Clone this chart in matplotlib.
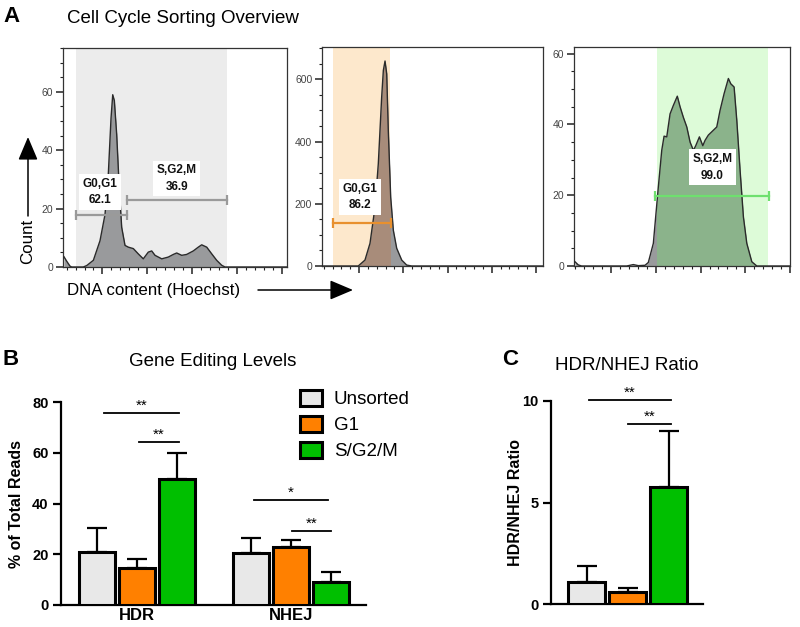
import matplotlib
matplotlib.use('Agg')
import matplotlib.pyplot as plt
import numpy as np
from matplotlib.patches import Patch
from matplotlib.ticker import MultipleLocator, FixedLocator

plt.rcParams['font.family'] = ['Liberation Sans', 'DejaVu Sans']

# ---------------- data: panel A histograms ----------------
h1_x = [-2.9, 0.1, 3.8, 5.7, 18.7, 22.5, 29.9, 37.3, 42.9, 46.6, 49.6, 51.5, 53.3, 55.9,
        58.8, 61.5, 65.2, 68.9, 74.5, 80.0, 85.6, 91.2, 95.0, 98.7, 106.2, 113.5, 119.1,
        122.9, 128.5, 134.0, 141.4, 147.0, 150.8, 156.4, 162.0, 167.5, 173.1, 176.8, 246]
h1_y = [3.5, 2.0, 0.3, 0.0, 0.0, 0.5, 2.3, 9.0, 18.0, 32.0, 51.0, 59.0, 57.0, 45.5,
        27.0, 13.6, 7.4, 6.8, 6.3, 4.5, 2.8, 5.1, 5.5, 4.0, 2.8, 3.4, 4.3,
        4.8, 4.0, 4.3, 5.5, 6.8, 7.6, 6.8, 4.5, 2.3, 0.6, 0.0, 0.0]

h2_x = [-2, 39.0, 46.6, 52.3, 58.0, 61.7, 65.5, 67.4, 69.3, 71.2, 73.0, 75.7, 78.7,
        82.5, 88.2, 93.8, 99.5, 248]
h2_y = [0, 0, 19, 73, 190, 329, 543, 629, 659, 618, 436, 222, 115,
        57, 19, 3, 0, 0]

h3_x = [-0.4, 3.3, 7.0, 57.4, 64.8, 70.4, 77.9, 81.6, 87.2, 92.8, 96.6, 99.2, 102.2,
        105.9, 109.6, 114.0, 117.1, 120.8, 124.6, 128.3, 132.0, 134.6, 138.7, 142.5,
        145.0, 148.7, 158.1, 161.8, 166.3, 171.1, 173.8, 177.5, 180.5, 184.2, 187.9,
        191.7, 197.3, 202.9, 240]
h3_y = [1.2, 0.3, 0.0, 0.0, 0.4, 0.1, 0.2, 1.0, 6.4, 22.4, 32.7, 36.7, 36.5,
        43.0, 45.4, 48.0, 45.0, 42.0, 39.3, 35.0, 32.7, 34.0, 36.5, 34.0,
        35.5, 37.0, 39.3, 44.0, 48.7, 53.0, 51.5, 50.6, 41.2, 27.0, 13.9,
        6.4, 1.2, 0.0, 0.0]

# gates: (start, end, level)
g1_gates = [(10.5, 67.4, 17.7), (67.4, 179.0, 22.8)]
g1_labels = [('G0,G1\n62.1', 37.3, 25.7), ('S,G2,M\n36.9', 123.0, 30.3)]
g2_gates = [(10.4, 76.0, 138.0)]
g2_labels = [('G0,G1\n86.2', 41.0, 222.0)]
g3_gates = [(89.1, 216.6, 19.7)]
g3_labels = [('S,G2,M\n99.0', 153.2, 27.9)]
g1_shade = (10.5, 179.0)
g2_shade = (10.4, 74.9)
g3_shade = (91.3, 215.5)

# ---------------- data: panels B and C ----------------
groups = ['HDR', 'NHEJ']
series = ['Unsorted', 'G1', 'S/G2/M']
colors = ['#e8e8e8', '#ff8000', '#00bf00']
b_means = {'Unsorted': [21.0, 20.5], 'G1': [14.6, 22.9], 'S/G2/M': [49.7, 9.1]}
b_err = {'Unsorted': [9.4, 5.9], 'G1': [3.5, 2.7], 'S/G2/M': [10.2, 3.8]}
c_means = [1.08, 0.59, 5.76]
c_err = [0.79, 0.20, 2.76]

fig = plt.figure(figsize=(8, 6.27), dpi=100)
W, H = 800.0, 627.0


def rect(x0, y0, x1, y1):
    return [x0 / W, 1 - y1 / H, (x1 - x0) / W, (y1 - y0) / H]


def hist_panel(r, x, y, xlim, ylim, ymaj, ymin, shade, shade_col, fill_col,
               gates, gate_col, labels):
    ax = fig.add_axes(r)
    sp = ax.axvspan(shade[0], shade[1], color=shade_col, zorder=0, lw=0)
    ax.fill_between(x, y, color='#999a9c', zorder=1, lw=0)
    f2 = ax.fill_between(x, y, color=fill_col, zorder=2, lw=0)
    f2.set_clip_path(sp)
    ax.plot(x, y, color='#2a2a2a', lw=1.0, zorder=3)
    for (a, b, lev) in gates:
        ax.plot([a, b], [lev, lev], color=gate_col, lw=1.6, marker='|',
                markersize=7, markeredgewidth=1.6, zorder=4)
    for (t, lx, ly) in labels:
        ax.text(lx, ly, t, ha='center', va='center', fontsize=8.5, fontweight='bold',
                color='#111', linespacing=1.5, zorder=5,
                bbox=dict(boxstyle='square,pad=0.3', fc='white', ec='none'))
    ax.set_xlim(*xlim)
    ax.set_ylim(*ylim)
    ax.xaxis.set_major_locator(FixedLocator([40, 90, 140, 190, 240]))
    ax.xaxis.set_minor_locator(MultipleLocator(10))
    ax.yaxis.set_major_locator(MultipleLocator(ymaj))
    ax.yaxis.set_minor_locator(MultipleLocator(ymin))
    ax.tick_params(axis='x', which='both', labelbottom=False, direction='out')
    ax.tick_params(which='major', length=5, width=1.1, color='#222')
    ax.tick_params(which='minor', length=2.5, width=0.8, color='#222')
    ax.tick_params(axis='y', labelsize=7.5, labelcolor='#444', pad=2)
    for s in ax.spines.values():
        s.set_color('#333')
        s.set_linewidth(0.9)
    return ax


hist_panel(rect(63, 48, 287, 267), h1_x, h1_y, (-4, 246), (0, 75), 20, 5,
           g1_shade, '#ececec', '#999a9c', g1_gates, '#9a9a9a', g1_labels)
hist_panel(rect(322, 47, 543, 266), h2_x, h2_y, (-2, 248), (0, 704), 200, 50,
           g2_shade, '#fde8cc', '#a88c7a', g2_gates, '#e8902e', g2_labels)
hist_panel(rect(574, 47, 790, 266), h3_x, h3_y, (-1.5, 240), (0, 61.9), 20, 5,
           g3_shade, '#ddfbd8', '#8bb38b', g3_gates, '#6ee06e', g3_labels)

# panel A texts
fig.text(3 / W, 1 - 21.5 / H, 'A', fontsize=16, fontweight='bold', va='baseline')
fig.text(67 / W, 1 - 23 / H, 'Cell Cycle Sorting Overview', fontsize=13.5, va='baseline')
fig.text(67 / W, 1 - 295 / H, 'DNA content (Hoechst)', fontsize=12.2, va='baseline')
fig.text(28 / W, 1 - 241 / H, 'Count', fontsize=12.2, rotation=90, ha='center', va='center')
fig.add_artist(plt.Annotation('', xy=(353, H - 290), xytext=(258, H - 290),
                              xycoords='figure pixels', textcoords='figure pixels',
                              arrowprops=dict(arrowstyle='-|>,head_length=1.3,head_width=0.55',
                                              color='black', lw=1.1, mutation_scale=11,
                                              shrinkA=0, shrinkB=0)))
fig.add_artist(plt.Annotation('', xy=(28, H - 137), xytext=(28, H - 216),
                              xycoords='figure pixels', textcoords='figure pixels',
                              arrowprops=dict(arrowstyle='-|>,head_length=1.3,head_width=0.55',
                                              color='black', lw=1.1, mutation_scale=11,
                                              shrinkA=0, shrinkB=0)))


def style_bar_axes(ax):
    for s in ['top', 'right']:
        ax.spines[s].set_visible(False)
    for s in ['left', 'bottom']:
        ax.spines[s].set_linewidth(1.6)
    ax.tick_params(axis='y', length=6, width=1.6, labelsize=10.5, pad=3)
    for lab in ax.get_yticklabels():
        lab.set_fontweight('bold')


def sig(ax, x0, x1, y, txt):
    ax.plot([x0, x1], [y, y], color='black', lw=1.3, clip_on=False)
    ax.annotate(txt, xy=((x0 + x1) / 2, y), xytext=(0, 0), textcoords='offset points',
                ha='center', va='bottom', fontsize=11, annotation_clip=False)


# ---------------- panel B ----------------
axB = fig.add_axes(rect(61, 402, 366, 605))
gc = np.array([0.0, 3.86])
for i, s in enumerate(series):
    xs = gc + (i - 1) * 1.0
    axB.bar(xs, b_means[s], width=0.9, color=colors[i], edgecolor='black', lw=2.2,
            zorder=3, label=s)
    axB.errorbar(xs, b_means[s], yerr=[np.zeros(2), b_err[s]], fmt='none', ecolor='black',
                 elinewidth=1.6, capsize=7.5, capthick=1.6, zorder=2)
axB.set_xlim(-1.89, 5.735)
axB.set_ylim(0, 80)
axB.set_yticks([0, 20, 40, 60, 80])
axB.set_xticks(gc)
axB.set_xticklabels(groups, fontsize=12, fontweight='bold')
axB.tick_params(axis='x', length=0, pad=2)
style_bar_axes(axB)
sig(axB, gc[0] - 0.82, gc[0] + 1.05, 75.7, '**')
sig(axB, gc[0] + 0.06, gc[0] + 1.05, 64.2, '**')
sig(axB, gc[1] - 0.93, gc[1] + 0.92, 41.4, '*')
sig(axB, gc[1] + 0.02, gc[1] + 1.0, 29.1, '**')
fig.text(3 / W, 1 - 365 / H, 'B', fontsize=16, fontweight='bold', va='baseline')
fig.text(213 / W, 1 - 366 / H, 'Gene Editing Levels', fontsize=13.5, ha='center', va='baseline')
fig.text(17 / W, 1 - 504 / H, '% of Total Reads', fontsize=11.5, fontweight='bold',
         rotation=90, ha='center', va='center')

handles = [Patch(facecolor=colors[i], edgecolor='black', lw=2.2, label=s)
           for i, s in enumerate(series)]
fig.legend(handles=handles, loc='upper left', bbox_to_anchor=(300 / W, 1 - 390 / H),
           frameon=False, fontsize=13.5, handlelength=1.15, handleheight=0.9,
           handletextpad=0.65, labelspacing=0.42, borderpad=0, borderaxespad=0)

# ---------------- panel C ----------------
axC = fig.add_axes(rect(551, 401, 703, 604))
xc = np.arange(3)
axC.bar(xc, c_means, width=0.9, color=colors, edgecolor='black', lw=2.2, zorder=3)
axC.errorbar(xc, c_means, yerr=[np.zeros(3), c_err], fmt='none', ecolor='black',
             elinewidth=1.6, capsize=7.5, capthick=1.6, zorder=2)
axC.set_xlim(-0.866, 2.84)
axC.set_ylim(0, 10)
axC.set_yticks([0, 5, 10])
axC.set_xticks([])
style_bar_axes(axC)
sig(axC, 0.06, 2.06, 10.05, '**')
sig(axC, 1.01, 2.06, 8.87, '**')
fig.text(502 / W, 1 - 365 / H, 'C', fontsize=16, fontweight='bold', va='baseline')
fig.text(627 / W, 1 - 370 / H, 'HDR/NHEJ Ratio', fontsize=13.5, ha='center', va='baseline')
fig.text(515 / W, 1 - 502 / H, 'HDR/NHEJ Ratio', fontsize=11.5, fontweight='bold',
         rotation=90, ha='center', va='center')

fig.savefig('out.png', dpi=100)
